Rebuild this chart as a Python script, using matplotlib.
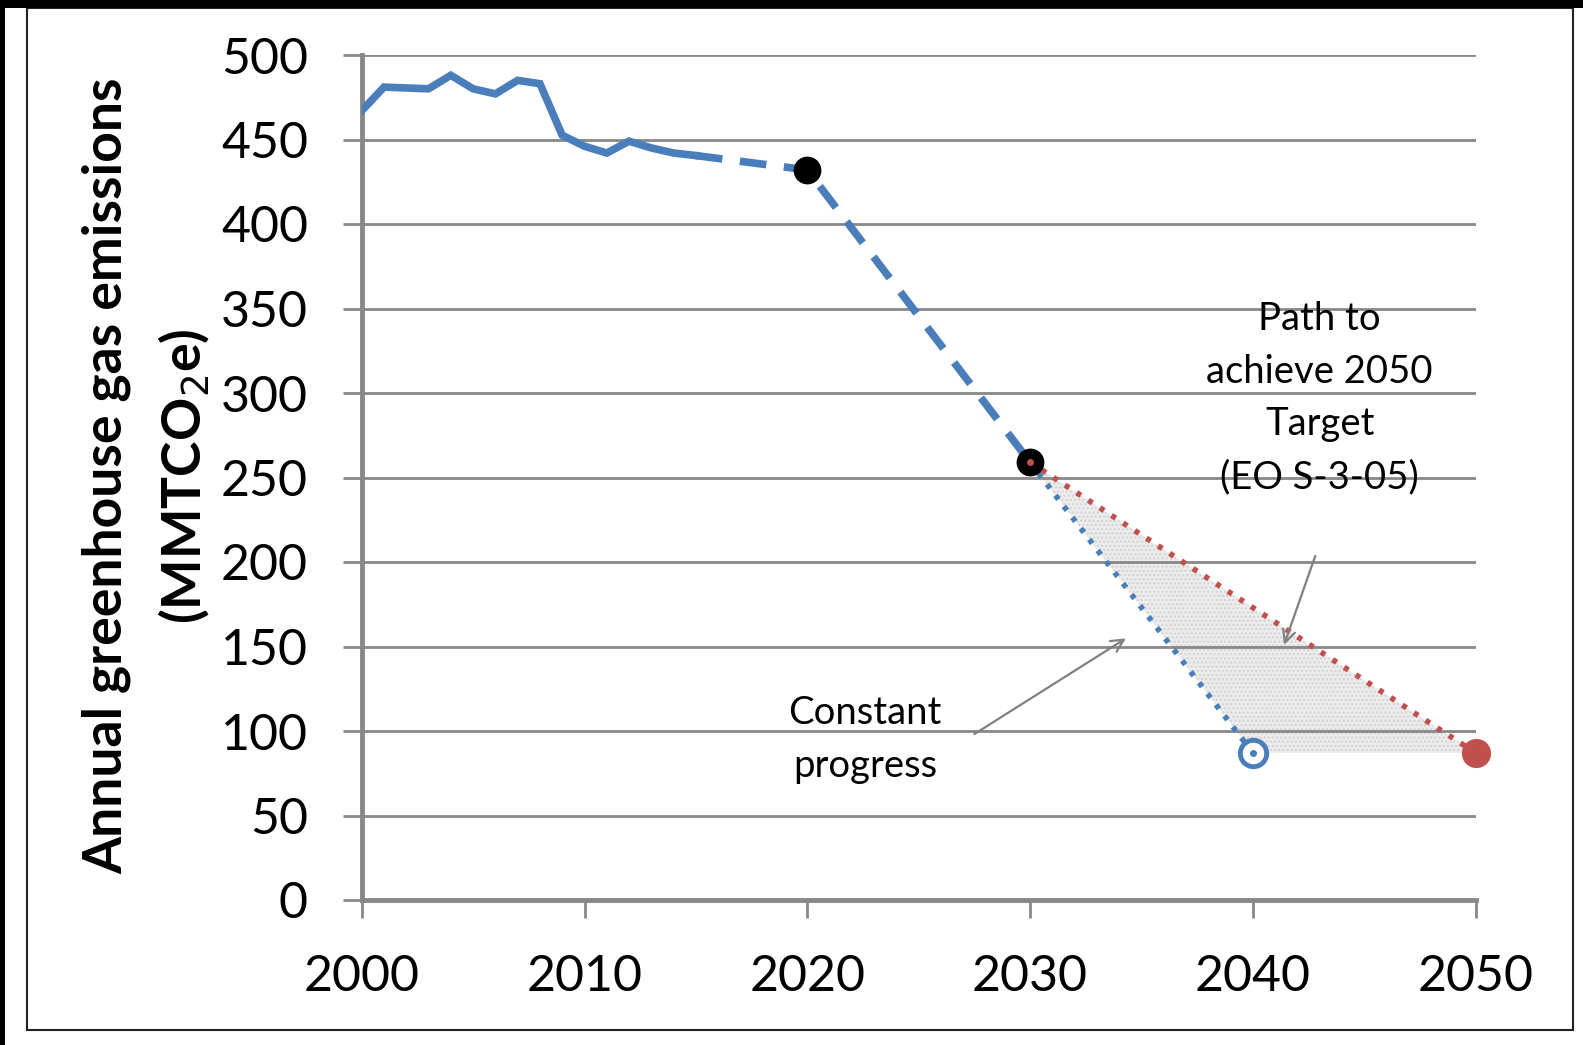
import matplotlib.pyplot as plt
from matplotlib.patches import Rectangle

plt.rcParams['font.family'] = ['Lato', 'DejaVu Sans']

# historical emissions (MMTCO2e)
hist_years = [2000, 2001, 2002, 2003, 2004, 2005, 2006, 2007,
              2008, 2009, 2010, 2011, 2012, 2013, 2014, 2015]
hist_vals = [467, 481, 480.5, 480, 488, 480, 477, 485,
             483, 452.5, 446, 442, 449, 445, 442, 440.5]

# projection to 2030 (dashed)
proj_years = [2015, 2020, 2030]
proj_vals = [440.5, 432, 259]

# after 2030
const_years = [2030, 2040]
const_vals = [259, 87]
target_years = [2030, 2050]
target_vals = [259, 87]

yticks = [0, 50, 100, 150, 200, 250, 300, 350, 400, 450, 500]
xticks = [2000, 2010, 2020, 2030, 2040, 2050]

blue = '#4a7ebb'
red = '#c0504d'
grey = '#888888'

W, H = 1583, 1045
fig = plt.figure(figsize=(W / 100, H / 100), dpi=100)
ax = fig.add_axes([361.7 / W, 1 - 900 / H, (1475.7 - 361.7) / W, (900 - 55) / H])

# shaded area between the two paths
ax.fill([const_years[0], const_years[1], target_years[1]],
        [const_vals[0], const_vals[1], target_vals[1]],
        fc='#ececec', ec='#d2d2d2', hatch='....', lw=0, zorder=1)

ax.plot(hist_years, hist_vals, color=blue, lw=5.5, solid_joinstyle='miter', zorder=3)
ax.plot(proj_years, proj_vals, color=blue, lw=5.5, dashes=(3.5, 2.3), zorder=3)
ax.plot(const_years, const_vals, color=blue, lw=4, dashes=(0.9, 1.6), zorder=3)
ax.plot(target_years, target_vals, color=red, lw=4, dashes=(0.9, 1.6), zorder=3)

ax.plot(proj_years[1:], proj_vals[1:], 'o', color='black', ms=19, zorder=4)
ax.plot([proj_years[2]], [proj_vals[2]], 'o', color=red, ms=4, zorder=5)
ax.plot([const_years[1]], [const_vals[1]], 'o', mfc='white', mec=blue, mew=3.5, ms=19,
        zorder=4, clip_on=False)
ax.plot([const_years[1]], [const_vals[1]], 'o', color=blue, ms=4, zorder=5, clip_on=False)
ax.plot([target_years[1]], [target_vals[1]], 'o', color=red, ms=20, zorder=4, clip_on=False)

ax.set_xlim(2000, 2050)
ax.set_ylim(0, 500)
ax.set_xticks(xticks)
ax.set_yticks(yticks)
ax.grid(axis='y', color=grey, lw=2)
ax.set_axisbelow(False)
for s in ['top', 'right']:
    ax.spines[s].set_visible(False)
for s in ['left', 'bottom']:
    ax.spines[s].set_color(grey)
    ax.spines[s].set_linewidth(3.5)
    ax.spines[s].set_zorder(2.6)
ax.tick_params(axis='y', length=13.7, width=2, color=grey, pad=25, labelsize=36)
ax.tick_params(axis='x', length=13, width=2, color=grey, pad=26, labelsize=36)

txt_kw = dict(fontsize=27.5, ha='center', va='center', linespacing=1.58, zorder=6)
ax.text(2043.0, 297, 'Path to\nachieve 2050\nTarget\n(EO S-3-05)', **txt_kw)
ax.text(2022.6, 95, 'Constant\nprogress', **txt_kw)

arr = dict(arrowstyle='->,head_length=0.9,head_width=0.45', color='#808080', lw=1.6,
           shrinkA=0, shrinkB=0)
ax.annotate('', xy=(2041.4, 151), xytext=(2042.8, 203.6), arrowprops=arr)
ax.annotate('', xy=(2034.3, 154.8), xytext=(2027.5, 98.2), arrowprops=arr)

fig.text(147 / W, 1 - 476 / H, 'Annual greenhouse gas emissions\n(MMTCO$_2$e)',
         rotation=90, ha='center', va='center', fontsize=38.5, fontweight='bold',
         linespacing=1.55, multialignment='center')

# outer frame like the screenshot
fig.add_artist(Rectangle((27 / W, 1 - 1030 / H), (1573 - 27) / W, (1030 - 8) / H,
                         transform=fig.transFigure, fill=False, ec='#222222', lw=1.5))
fig.add_artist(Rectangle((0, 1 - 8 / H), 1, 8 / H, transform=fig.transFigure,
                         fc='black', ec='none'))
fig.add_artist(Rectangle((0, 0), 5 / W, 1, transform=fig.transFigure,
                         fc='black', ec='none'))

fig.savefig('out.png', dpi=100)
